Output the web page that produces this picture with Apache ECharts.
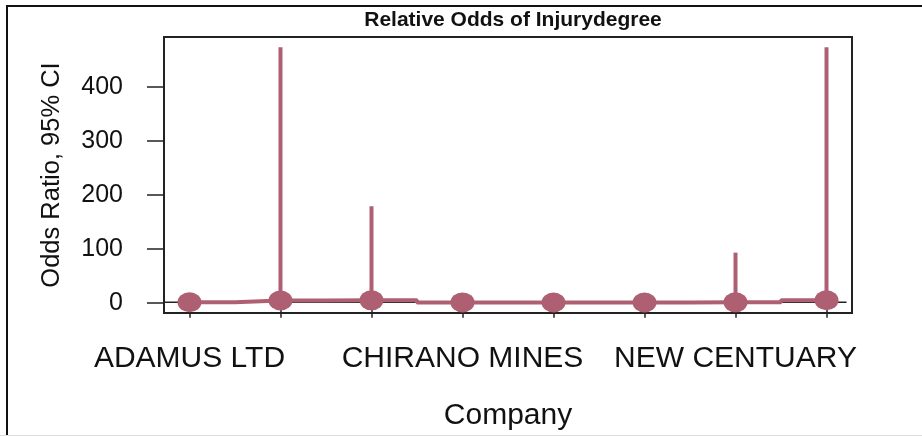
<!DOCTYPE html>
<html>
<head>
<meta charset="utf-8">
<script src="https://cdn.jsdelivr.net/npm/echarts@6/dist/echarts.min.js"></script>
<style>
  html, body { margin: 0; padding: 0; background: #fff; }
  #chart { width: 922px; height: 436px; }
</style>
</head>
<body>
<div id="chart"></div>
<script>
// companies (only 1st, 4th and 7th names are printed on the axis)
const companies = ['ADAMUS LTD', 'ANGLOGOLD ASHANTI', 'ASANKO GOLD', 'CHIRANO MINES',
                   'GOLD FIELDS', 'GOLDEN STAR', 'NEW CENTUARY', 'NEWMONT GHANA'];
const oddsRatio = [1, 4.2, 4.5, 0.6, 0.5, 0.4, 0.8, 4.6];
const lowerCI   = [1, 0.04, 0.11, 0.02, 0.02, 0.02, 0.01, 0.05];
const upperCI   = [1, 474, 179, 18, 18, 8, 93, 474];
const yTicks    = [0, 100, 200, 300, 400];
const shownLabels = [1, 4, 7];
const refOR = 1;

const red = '#AE6072';
const font = 'Liberation Sans, Arial, sans-serif';

let chart = echarts.init(document.getElementById('chart'));

let xs = companies.map((c, i) => i + 1);

let option = {
    backgroundColor: '#fff',
    animation: false,
    title: {
        text: 'Relative Odds of Injurydegree',
        left: 508, top: 5, textAlign: 'center',
        textStyle: { fontFamily: font, fontSize: 21, fontWeight: 'bold', color: '#111' }
    },
    grid: {
        left: 164, right: 70, top: 37, bottom: 122,
        show: true, borderColor: '#222', borderWidth: 2, backgroundColor: 'transparent'
    },
    xAxis: {
        type: 'value', min: 0.72, max: 8.28,
        name: 'Company', nameLocation: 'middle', nameGap: 88,
        nameTextStyle: { fontFamily: font, fontSize: 30, color: '#111' },
        axisLine: { show: false },
        splitLine: { show: false },
        axisTick: { show: true, length: 15, customValues: xs, lineStyle: { color: '#222', width: 1.5 } },
        axisLabel: {
            customValues: shownLabels, margin: 31,
            fontFamily: font, fontSize: 30, color: '#111',
            formatter: v => companies[Math.round(v) - 1]
        }
    },
    yAxis: {
        type: 'value', min: -19, max: 493,
        name: 'Odds Ratio, 95% CI', nameLocation: 'middle', nameGap: 99,
        nameTextStyle: { fontFamily: font, fontSize: 25.5, color: '#111' },
        axisLine: { show: false },
        splitLine: { show: false },
        axisTick: { show: true, length: 17, customValues: yTicks, lineStyle: { color: '#222', width: 1.5 } },
        axisLabel: { customValues: yTicks, margin: 41, fontFamily: font, fontSize: 25, color: '#111' }
    },
    series: [
        {
            // reference line at OR = 1, drawn under the estimates
            type: 'line', z: 1, silent: true, symbol: 'none',
            data: [[0.72, refOR], [8.22, refOR]],
            lineStyle: { color: '#222', width: 1.5 }
        },
        {
            type: 'custom', z: 2,
            data: companies.map((c, i) => [xs[i], lowerCI[i], upperCI[i]]),
            encode: { x: 0, y: [1, 2] },
            renderItem: function (params, api) {
                let lo = api.coord([api.value(0), api.value(1)]);
                let hi = api.coord([api.value(0), api.value(2)]);
                return {
                    type: 'line',
                    shape: { x1: lo[0], y1: lo[1], x2: hi[0], y2: hi[1] },
                    style: { stroke: red, lineWidth: 4 }
                };
            }
        },
        {
            type: 'line', z: 3, step: 'middle',
            data: companies.map((c, i) => [xs[i], oddsRatio[i]]),
            symbol: 'circle', symbolSize: [24, 20],
            lineStyle: { color: red, width: 4 },
            itemStyle: { color: red }
        }
    ],
    graphic: [
        { type: 'polyline', shape: { points: [[7, 436], [7, 6], [922, 6]] },
          style: { stroke: '#111', lineWidth: 2, fill: null } },
        { type: 'line', shape: { x1: 0, y1: 435.5, x2: 922, y2: 435.5 },
          style: { stroke: '#ddd', lineWidth: 1 } }
    ]
};

chart.setOption(option);
</script>
</body>
</html>
